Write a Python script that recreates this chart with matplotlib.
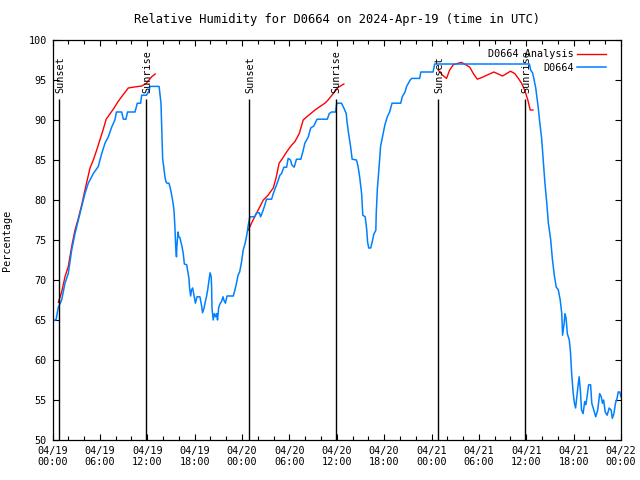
import numpy as np
import matplotlib
matplotlib.use("Agg")
import matplotlib.pyplot as plt
from matplotlib.ticker import MultipleLocator

# Hours since 2024-04-19 00:00 UTC
obs_hours = [0.1, 0.44, 0.74, 1.16, 1.58, 2.0, 2.43, 2.85, 3.27, 3.7, 4.11, 4.53, 5.17,
             5.8, 6.23, 6.65, 7.07, 7.49, 7.9, 8.1, 8.76, 8.97, 9.3, 9.5, 10.45, 10.74,
             11.16, 11.3, 11.9, 12.25, 12.34, 13.5, 13.74, 13.95, 14.24, 14.37, 14.5,
             14.75, 14.97, 15.17, 15.3, 15.4, 15.5, 15.6, 15.7, 15.75, 15.9, 16.0, 16.14,
             16.27, 16.4, 16.56, 16.7, 17.0, 17.1, 17.28, 17.36, 17.5, 17.6, 17.75, 17.95,
             18.1, 18.3, 18.67, 18.9, 19.0, 19.2, 19.35, 19.5, 19.65, 19.8, 19.95, 20.1,
             20.15, 20.2, 20.35, 20.5, 20.66, 20.8, 20.9, 21.04, 21.2, 21.4, 21.6, 21.7,
             21.9, 22.1, 22.9, 23.1, 23.3, 23.5, 23.7, 23.95, 24.15, 24.4, 24.6, 24.8,
             25.0, 25.6, 25.85, 26.2, 26.35, 26.6, 26.9, 27.1, 27.75, 27.96, 28.3, 28.6,
             28.8, 29.0, 29.3, 29.65, 29.85, 30.15, 30.3, 30.6, 30.7, 30.9, 31.45, 31.7,
             31.96, 32.4, 32.7, 33.1, 33.5, 34.8, 35.05, 35.35, 35.85, 36.0, 36.6, 36.9,
             37.2, 37.3, 37.5, 37.75, 37.95, 38.5, 38.7, 38.9, 39.15, 39.3, 39.6, 39.8,
             39.9, 40.05, 40.3, 40.5, 40.7, 40.95, 41.0, 41.15, 41.35, 41.55, 41.8, 42.1,
             42.4, 42.7, 43.0, 44.1, 44.3, 44.65, 44.85, 45.3, 45.5, 46.5, 46.65, 48.2,
             48.4, 60.4, 60.55, 60.8, 61.0, 61.2, 61.5, 61.7, 61.95, 62.15, 62.35, 62.6,
             62.8, 63.1, 63.3, 63.55, 63.8, 64.05, 64.3, 64.5, 64.6, 64.8, 64.9, 65.05,
             65.2, 65.45, 65.6, 65.75, 65.95, 66.1, 66.25, 66.4, 66.55, 66.7, 66.85, 67.0,
             67.2, 67.4, 67.55, 67.7, 67.9, 68.15, 68.3, 68.55, 68.8, 69.05, 69.3, 69.5,
             69.65, 69.8, 70.0, 70.25, 70.5, 70.75, 70.9, 71.1, 71.3, 71.5, 71.65, 71.85,
             72.0]
obs_rh = [65.0, 65.0, 66.6, 67.5, 69.6, 70.8, 73.75, 75.8, 77.5, 79.2, 80.8, 82.1, 83.3,
          84.2, 85.8, 87.1, 87.9, 89.1, 90.0, 91.0, 91.0, 90.1, 90.1, 91.0, 91.0, 92.1,
          92.1, 93.1, 93.1, 93.7, 94.2, 94.2, 92.1, 85.2, 82.9, 82.3, 82.1,
          82.1, 81.25, 80.2, 79.4, 78.5, 76.7, 74.2, 72.9, 74.2, 76.0, 75.4, 75.3,
          74.7, 74.2, 73.3, 72.0, 71.9, 71.25, 70.2, 69.0, 68.0, 68.75, 69.0, 67.9,
          67.1, 67.9, 67.9, 66.7, 65.9, 66.5, 67.3, 67.9, 68.75, 69.8, 70.9, 70.4,
          69.2, 66.5, 65.0, 65.8, 65.4, 65.8, 65.0, 66.5, 67.0, 67.3, 67.9, 67.5,
          67.1, 68.0, 68.0, 68.75, 69.6, 70.6, 71.0, 72.3, 73.75, 74.6, 75.6, 76.9,
          77.9, 77.9, 78.4, 78.4, 77.9, 78.5, 79.4, 80.1, 80.1, 80.8, 81.7, 82.5,
          83.1, 83.3, 84.1, 84.1, 85.2, 85.0, 84.4, 84.1, 84.4, 85.1, 85.1, 86.0,
          87.1, 87.9, 89.0, 89.25, 90.1, 90.1, 90.8, 91.0, 91.0, 92.1, 92.1, 91.5,
          90.8, 89.8, 88.3, 86.7, 85.1, 85.0, 84.2, 82.9, 80.8, 78.1, 77.9, 76.25,
          74.8, 74.0, 74.0, 74.8, 75.75, 76.2, 78.3, 81.5, 84.0, 86.7, 87.9, 89.4,
          90.4, 91.0, 92.1, 92.1, 92.9, 93.5, 94.2, 95.0, 95.2, 95.2, 96.0, 96.0,
          97.0, 97.0, 96.25, 95.9, 95.0, 94.0, 91.7, 89.8, 87.7, 85.0, 82.3, 79.6,
          77.1, 75.0, 72.7, 70.6, 69.1, 68.8, 67.5, 65.8, 63.1, 64.6, 65.8, 65.2,
          63.3, 62.5, 61.0, 58.3, 55.8, 54.6, 54.0, 55.4, 56.7, 57.9, 56.25, 53.75,
          53.3, 54.8, 54.4, 55.4, 56.9, 56.9, 54.6, 53.75, 52.9, 53.75, 55.8, 55.4,
          54.6, 55.0, 53.5, 53.1, 54.0, 53.75, 52.7, 53.3, 54.6, 55.2, 56.0, 56.0,
          55.4]

ana_hours = [0.74, 1.16, 1.58, 2.0, 2.43, 2.85, 3.27, 3.7, 4.11, 4.4, 4.75, 5.17, 5.6,
             6.0, 6.4, 6.8, 7.3, 7.8, 8.3, 8.9, 9.6, 10.2, 11.3, 11.9, 12.55, 13.0,
             np.nan,
             24.8, 25.4, 26.05, 26.7, 27.3, 27.96, 28.3, 28.7, 29.2, 29.65, 30.15, 30.7,
             31.25, 31.75, 32.2, 32.7, 33.25, 33.9, 34.5, 34.9, 35.55, 36.2, 36.9,
             np.nan,
             48.85, 49.4, 49.9, 50.3, 50.75, 51.4, 51.8, 52.35, 52.85, 53.3, 53.8, 54.35,
             55.0, 55.9, 56.45, 57.0, 57.5, 58.0, 58.55, 59.0, 59.4, 59.8, 60.2, 60.5,
             60.85]
ana_rh = [67.2, 68.5, 70.4, 71.7, 74.2, 76.25, 77.7, 79.4, 81.25, 82.5, 84.0, 85.0, 86.25,
          87.5, 88.75, 90.1, 90.8, 91.5, 92.3, 93.1, 94.0, 94.1, 94.25, 94.6, 95.4, 95.75,
          np.nan,
          76.25, 77.5, 78.75, 80.0, 80.6, 81.5, 82.7, 84.6, 85.3, 86.0, 86.7, 87.3,
          88.3, 90.0, 90.4, 90.8, 91.25, 91.7, 92.1, 92.5, 93.3, 94.1, 94.5,
          np.nan,
          96.25, 95.6, 95.2, 96.25, 96.9, 97.1, 97.2, 96.9, 96.6, 95.8, 95.1, 95.3,
          95.6, 96.0, 95.75, 95.5, 95.8, 96.1, 95.8, 95.2, 94.6, 93.75, 92.5, 91.25,
          91.25]

sun_hours = [0.86, 11.9, 24.9, 35.9, 48.86, 59.9]
sun_labels = ["Sunset", "Sunrise", "Sunset", "Sunrise", "Sunset", "Sunrise"]

tick_hours = [0, 6, 12, 18, 24, 30, 36, 42, 48, 54, 60, 66, 72]
tick_labels = ["04/19\n00:00", "04/19\n06:00", "04/19\n12:00", "04/19\n18:00",
               "04/20\n00:00", "04/20\n06:00", "04/20\n12:00", "04/20\n18:00",
               "04/21\n00:00", "04/21\n06:00", "04/21\n12:00", "04/21\n18:00",
               "04/22\n00:00"]

plt.rcParams['font.family'] = ['DejaVu Sans Mono']
plt.rcParams['font.size'] = 7.3

fig = plt.figure(figsize=(6.4, 4.8), dpi=100)
ax = fig.add_axes([52.5/640, 40/480, (621-52.5)/640, 400/480])

ax.plot(ana_hours, ana_rh, color='#ff0000', lw=1.0, label='D0664 Analysis')
ax.plot(obs_hours, obs_rh, color='#0080ff', lw=1.1, label='D0664')

ax.vlines(sun_hours, 50, 92.6, color='black', lw=1.0)
for t, lab in zip(sun_hours, sun_labels):
    ax.text(t + 0.1, 93.4, lab, rotation=90, ha='center', va='bottom')

ax.set_xlim(0, 72)
ax.set_ylim(50, 100)
ax.set_xticks(tick_hours)
ax.set_xticklabels(tick_labels, linespacing=1.2)
ax.xaxis.set_minor_locator(MultipleLocator(2))
ax.set_yticks(np.arange(50, 101, 5))
ax.tick_params(which='both', direction='in', top=True, right=True)
ax.tick_params(which='major', length=4, width=0.8, pad=4)
ax.tick_params(which='minor', length=3, width=0.8)
for s in ax.spines.values():
    s.set_linewidth(0.9)

ax.set_ylabel('Percentage', labelpad=12)
ax.set_title('Relative Humidity for D0664 on 2024-Apr-19 (time in UTC)', pad=12)

ax.legend(loc='upper right', frameon=False, markerfirst=False, handlelength=2.9,
          borderaxespad=0.5, labelspacing=0.35, handletextpad=0.3,
          bbox_to_anchor=(0.99, 1.0))

fig.savefig('out.png', dpi=100)
